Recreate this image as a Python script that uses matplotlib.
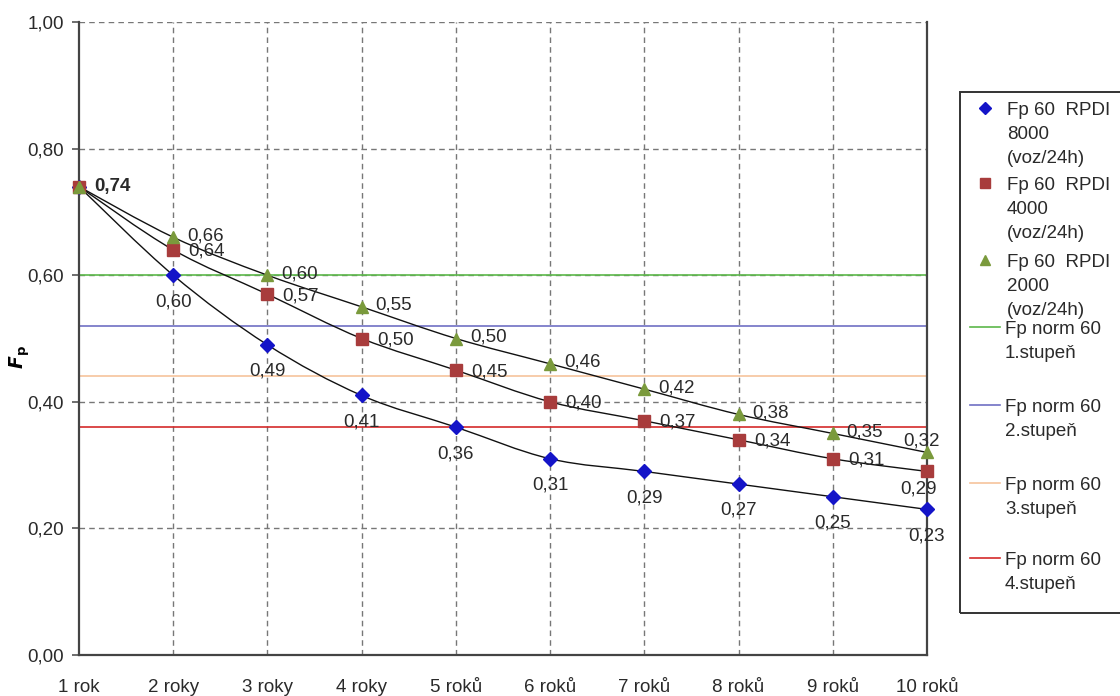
import numpy as np
import matplotlib
matplotlib.use("Agg")
import matplotlib.pyplot as plt
from matplotlib.path import Path
from matplotlib.patches import PathPatch, Rectangle
from matplotlib.lines import Line2D

plt.rcParams["font.family"] = ["Liberation Sans", "DejaVu Sans"]
plt.rcParams["font.size"] = 13.5

years = ["1 rok", "2 roky", "3 roky", "4 roky", "5 roků",
         "6 roků", "7 roků", "8 roků", "9 roků", "10 roků"]
fp_8000 = [0.74, 0.60, 0.49, 0.41, 0.36, 0.31, 0.29, 0.27, 0.25, 0.23]
fp_4000 = [0.74, 0.64, 0.57, 0.50, 0.45, 0.40, 0.37, 0.34, 0.31, 0.29]
fp_2000 = [0.74, 0.66, 0.60, 0.55, 0.50, 0.46, 0.42, 0.38, 0.35, 0.32]
norm_levels = [0.60, 0.52, 0.44, 0.36]
norm_names = ["Fp norm 60\n1.stupeň", "Fp norm 60\n2.stupeň",
              "Fp norm 60\n3.stupeň", "Fp norm 60\n4.stupeň"]
series_names = ["Fp 60  RPDI\n8000\n(voz/24h)",
                "Fp 60  RPDI\n4000\n(voz/24h)",
                "Fp 60  RPDI\n2000\n(voz/24h)"]

x = np.arange(1, len(years) + 1)

series = [
    (fp_8000, dict(marker="D", color="#1414c8", ms=7.5)),
    (fp_4000, dict(marker="s", color="#a83c3c", ms=8.5)),
    (fp_2000, dict(marker="^", color="#7a9a3c", ms=8.5)),
]
norm_colors = ["#5cb84a", "#7070c4", "#f6c49c", "#d42a2a"]
TXT = "#2a2a2a"


def smooth_path(xs, ys):
    """Catmull-Rom style bezier through the points (like a smoothed line)."""
    pts = np.column_stack([xs, ys]).astype(float)
    n = len(pts)
    verts = [pts[0]]
    codes = [Path.MOVETO]
    for i in range(n - 1):
        p0 = pts[max(i - 1, 0)]
        p1, p2 = pts[i], pts[i + 1]
        p3 = pts[min(i + 2, n - 1)]
        c1 = p1 + (p2 - p0) / 6.0
        c2 = p2 - (p3 - p1) / 6.0
        verts += [c1, c2, p2]
        codes += [Path.CURVE4] * 3
    return Path(verts, codes)


def fmt(v):
    return f"{v:.2f}".replace(".", ",")


fig = plt.figure(figsize=(11.2, 6.96), dpi=100)
ax = fig.add_axes([79 / 1120, 1 - 655 / 696, (927 - 79) / 1120, (655 - 22) / 696])

ax.set_xlim(1, 10)
ax.set_ylim(0, 1)

# dashed grid
grid_kw = dict(color="#777777", lw=1.0, ls=(0, (4, 3)), zorder=1)
for xv in x[1:]:
    ax.axvline(xv, **grid_kw)
for yv in [0.2, 0.4, 0.6, 0.8, 1.0]:
    ax.axhline(yv, **grid_kw)

for level, col in zip(norm_levels, norm_colors):
    ax.axhline(level, color=col, lw=1.2, zorder=2)

for vals, st in series:
    ax.add_patch(PathPatch(smooth_path(x, vals), fill=False,
                           ec="#111111", lw=1.0, zorder=3))
for vals, st in series:
    ax.plot(x, vals, ls="none", marker=st["marker"], color=st["color"],
            ms=st["ms"], mec=st["color"], zorder=4, clip_on=False)

# value labels
off = dict(textcoords="offset points", color=TXT, zorder=5,
           annotation_clip=False)
ax.annotate("0,74", (x[0], fp_8000[0]), xytext=(11, 0), ha="left",
            va="center", fontweight="bold", **off)
last = len(x) - 1
for i in range(1, len(x)):
    ax.annotate(fmt(fp_8000[i]), (x[i], fp_8000[i]),
                xytext=(0, -19), ha="center", va="center", **off)
    if i == last:
        ax.annotate(fmt(fp_4000[i]), (x[i], fp_4000[i]),
                    xytext=(-6, -13), ha="center", va="center", **off)
        ax.annotate(fmt(fp_2000[i]), (x[i], fp_2000[i]),
                    xytext=(-4, 8), ha="center", va="center", **off)
    else:
        ax.annotate(fmt(fp_4000[i]), (x[i], fp_4000[i]),
                    xytext=(11, -1), ha="left", va="center", **off)
        ax.annotate(fmt(fp_2000[i]), (x[i], fp_2000[i]),
                    xytext=(10, 1), ha="left", va="center", **off)

ax.set_xticks(x)
ax.set_xticklabels(years)
ax.set_yticks([0, 0.2, 0.4, 0.6, 0.8, 1.0])
ax.set_yticklabels(["0,00", "0,20", "0,40", "0,60", "0,80", "1,00"])
ax.tick_params(axis="x", length=0, pad=17, labelcolor=TXT)
ax.tick_params(axis="y", length=5, width=1.2, pad=6, color="#555555",
               labelcolor=TXT)
for side in ["left", "bottom", "right"]:
    ax.spines[side].set_color("#444444")
    ax.spines[side].set_linewidth(1.6)
ax.spines["top"].set_visible(False)

fig.text(20 / 1120, 1 - 357 / 696, r"$\mathbfit{F}_\mathbf{p}$", rotation=90,
         ha="center", va="center", fontsize=13.5)

# legend drawn by hand
W, H = 1120, 696
fig.add_artist(Rectangle((960 / W, 1 - 613 / H), 200 / W, (613 - 92) / H,
                         transform=fig.transFigure, fill=False,
                         ec="#333333", lw=1.4))
for (vals, st), name, ypx in zip(series, series_names, [108, 183, 260]):
    fig.add_artist(Line2D([985 / W], [1 - ypx / H], marker=st["marker"],
                          color=st["color"], ms=st["ms"] * 0.8, ls="none",
                          transform=fig.transFigure))
    fig.text(1007 / W, 1 - (ypx - 6) / H, name, ha="left", va="top",
             linespacing=1.55, color=TXT)
for col, name, ypx in zip(norm_colors, norm_names, [327, 405, 483, 558]):
    fig.add_artist(Line2D([970 / W, 1000 / W], [1 - ypx / H] * 2, color=col,
                          lw=1.2, transform=fig.transFigure))
    fig.text(1005 / W, 1 - (ypx - 6) / H, name, ha="left", va="top",
             linespacing=1.55, color=TXT)

fig.savefig("out.png", dpi=100)
